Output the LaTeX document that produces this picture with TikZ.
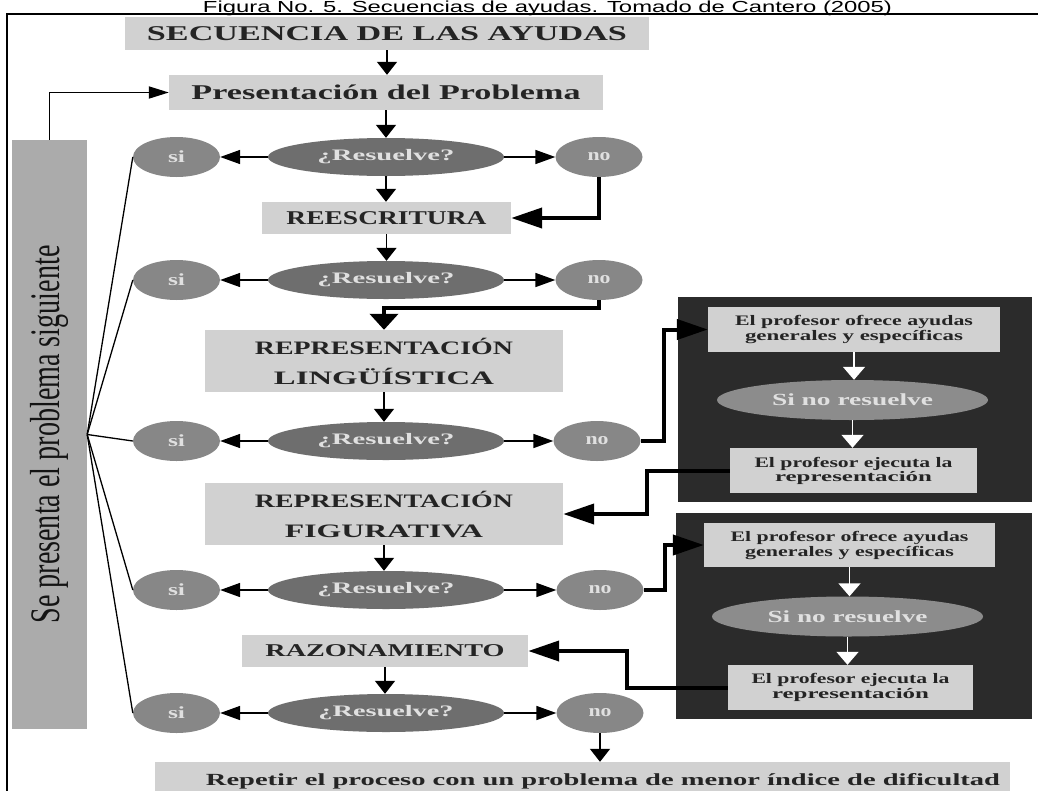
\documentclass[tikz,border=0pt]{standalone}
\usepackage{graphicx}
\usepackage{fontspec}
\setmainfont{Liberation Serif}
\newfontfamily\capfont{Liberation Sans}
\usetikzlibrary{shapes.geometric,arrows.meta}
\newcommand{\hw}[2]{\resizebox{#1}{\height}{#2}}
\definecolor{lboxc}{gray}{0.82}
\definecolor{boxtxt}{gray}{0.14}
\definecolor{ellD}{gray}{0.43}
\definecolor{ellM}{gray}{0.53}
\definecolor{etxt}{gray}{0.88}
\definecolor{darkc}{gray}{0.17}
\definecolor{midc}{gray}{0.67}
\definecolor{snc}{gray}{0.55}
\begin{document}
\begin{tikzpicture}[x=1pt,y=-1pt,
  lbox/.style={rectangle, fill=lboxc, inner sep=0pt, text=boxtxt},
  resell/.style={ellipse, fill=ellD, inner sep=0pt, minimum width=236pt, minimum height=38pt, text=etxt,
     font=\bfseries\fontsize{16}{16}\selectfont},
  sno/.style={ellipse, fill=ellM, inner sep=0pt, minimum width=87pt, minimum height=40pt, text=etxt,
     font=\bfseries\fontsize{17}{17}\selectfont},
  darkbox/.style={rectangle, fill=darkc, inner sep=0pt},
  ibox/.style={rectangle, fill=lboxc, inner sep=0pt, text=boxtxt, align=center},
  snell/.style={ellipse, fill=snc, inner sep=0pt, minimum width=271pt, minimum height=40pt, text=etxt,
     font=\bfseries\fontsize{17}{17}\selectfont},
  varr/.style={line width=1.6pt, -{Triangle[length=13pt,width=20pt]}},
  harr/.style={line width=1.6pt, -{Triangle[length=20pt,width=14pt]}},
  tharr/.style={line width=4pt, -{Triangle[length=31pt,width=20pt]}},
  tvarr/.style={line width=4pt, -{Triangle[length=16pt,width=28pt]}},
  warr/.style={draw=white, line width=1.5pt, -{Triangle[length=13pt,width=22pt]}},
  hub/.style={line width=1.3pt}
]
\clip (0,0) rectangle (1038,790);
\useasboundingbox (0,0) rectangle (1038,790);
\fill[white] (0,0) rectangle (1038,790);

% caption
\node[anchor=base, inner sep=0pt, font=\capfont\fontsize{16}{16}\selectfont] (cap) at (547.5,12)
  {\hw{689pt}{Figura No. 5. Secuencias de ayudas. Tomado de Cantero (2005)}};
% frame
\draw[line width=2.5pt] (7,800) -- (7,14) -- (1045,14);

% left tall box (rotated)
\node[rectangle, fill=midc, inner sep=0pt, rotate=90, minimum width=589pt, minimum height=75pt,
  text=black!92, font=\fontsize{42}{42}\selectfont] (left) at (49.5,434.5)
  {\hw{378pt}{Se presenta el problema siguiente}};

% main column
\node[lbox, minimum width=524pt, minimum height=33pt, font=\bfseries\fontsize{21}{21}\selectfont] (secu) at (387,33.5)
  {\hw{480pt}{SECUENCIA DE LAS AYUDAS}};
\node[lbox, minimum width=434pt, minimum height=35pt, font=\bfseries\fontsize{21}{21}\selectfont] (pres) at (386,92.5)
  {\hw{389pt}{Presentación del Problema}};

\node[resell] (res1) at (386,157) {\hw{137pt}{¿Resuelve?}};
\node[sno] (si1) at (176.5,157) {\hw{17pt}{si}};
\node[sno] (no1) at (599,157) {\hw{23pt}{no}};

\node[lbox, minimum width=249pt, minimum height=32pt, font=\bfseries\fontsize{19.5}{19.5}\selectfont] (rees) at (386.5,218)
  {\hw{200pt}{REESCRITURA}};

\node[resell] (res2) at (386,280) {\hw{137pt}{¿Resuelve?}};
\node[sno] (si2) at (176.5,280) {\hw{17pt}{si}};
\node[sno] (no2) at (599,280) {\hw{23pt}{no}};

\node[lbox, align=center, minimum width=358pt, minimum height=62pt, font=\bfseries\fontsize{19}{30}\selectfont] (ling) at (384,361)
  {\hw{258pt}{REPRESENTACIÓN}\\\hw{220pt}{LINGÜÍSTICA}};

\node[resell] (res3) at (386,441) {\hw{137pt}{¿Resuelve?}};
\node[sno] (si3) at (176.5,441) {\hw{17pt}{si}};
\node[sno] (no3) at (597,441) {\hw{23pt}{no}};

\node[lbox, align=center, minimum width=358pt, minimum height=62pt, font=\bfseries\fontsize{19}{30}\selectfont] (fig) at (384,514)
  {\hw{258pt}{REPRESENTACIÓN}\\\hw{198pt}{FIGURATIVA}};

\node[resell] (res4) at (386,590) {\hw{137pt}{¿Resuelve?}};
\node[sno] (si4) at (176.5,590) {\hw{17pt}{si}};
\node[sno] (no4) at (600,590) {\hw{23pt}{no}};

\node[lbox, minimum width=286pt, minimum height=32pt, font=\bfseries\fontsize{18}{18}\selectfont] (raz) at (385,651)
  {\hw{239pt}{RAZONAMIENTO}};

\node[resell] (res5) at (386,713) {\hw{135pt}{¿Resuelve?}};
\node[sno] (si5) at (176.5,713) {\hw{17pt}{si}};
\node[sno] (no5) at (600,713) {\hw{23pt}{no}};

\node[lbox, minimum width=855pt, minimum height=38pt, font=\bfseries\fontsize{17}{17}\selectfont] (rep) at (582.5,781)
  {\hspace*{41pt}\hw{794pt}{Repetir el proceso con un problema de menor índice de dificultad}};

% dark boxes
\node[darkbox, minimum width=354pt, minimum height=205pt] (dk1) at (855,399.5) {};
\node[ibox, minimum width=292pt, minimum height=45pt, font=\bfseries\fontsize{14.5}{15}\selectfont] (of1) at (854,329.5)
  {\hw{238pt}{El profesor ofrece ayudas}\\\hw{218pt}{generales y específicas}};
\node[snell] (sn1) at (852.5,400) {\hw{161pt}{Si no resuelve}};
\node[ibox, minimum width=247pt, minimum height=45pt, font=\bfseries\fontsize{14.5}{14}\selectfont] (ej1) at (853.5,470.5)
  {\hw{198pt}{El profesor ejecuta la}\\\hw{157pt}{representación}};

\node[darkbox, minimum width=356pt, minimum height=206pt] (dk2) at (854,616) {};
\node[ibox, minimum width=291pt, minimum height=44pt, font=\bfseries\fontsize{14.5}{15}\selectfont] (of2) at (849.5,545)
  {\hw{238pt}{El profesor ofrece ayudas}\\\hw{209pt}{generales y específicas}};
\node[snell] (sn2) at (847.5,616.5) {\hw{160pt}{Si no resuelve}};
\node[ibox, minimum width=245pt, minimum height=45pt, font=\bfseries\fontsize{14.5}{15}\selectfont] (ej2) at (850.5,687.5)
  {\hw{198pt}{El profesor ejecuta la}\\\hw{157pt}{representación}};

% vertical thin arrows
\draw[varr] (secu.south) -- (secu.south |- pres.north);
\draw[varr] (pres.south) -- (pres.south |- res1.north);
\draw[varr] (res1.south) -- (res1.south |- rees.north);
\draw[varr] (rees.south) -- (rees.south |- res2.north);
\draw[varr] (ling.south) -- (ling.south |- res3.north);
\draw[varr] (fig.south) -- (fig.south |- res4.north);
\draw[varr] (raz.south) -- (raz.south |- res5.north);
\draw[varr] (no5.south) -- (no5.south |- rep.north);

% horizontal thin arrows
\foreach \r/\s/\n in {res1/si1/no1, res2/si2/no2, res3/si3/no3, res4/si4/no4, res5/si5/no5}{
  \draw[harr] (\r.west) -- (\r.west -| \s.east);
  \draw[harr] (\r.east) -- (\r.east -| \n.west);
}

% thick arrows
\draw[tharr] (no1.south) |- (rees.east);
\draw[tvarr] (no2.south) |- ([yshift=22pt]ling.north) -- (ling.north);
\draw[tharr] (no3.east) -- ++(23,0) |- (of1.west);
\draw[tharr] (ej1.west) -- ++(-83,0) |- (fig.east);
\draw[tharr] (no4.east) -- ++(21,0) |- (of2.west);
\draw[tharr] (ej2.west) -- ++(-101,0) |- (raz.east);

% white arrows in dark boxes
\draw[warr] (of1.south) -- (of1.south |- sn1.north);
\draw[warr] (sn1.south) -- (sn1.south |- ej1.north);
\draw[warr] (of2.south) -- (of2.south |- sn2.north);
\draw[warr] (sn2.south) -- (sn2.south |- ej2.north);

% left box to presentation
\draw[line width=1.8pt, -{Triangle[length=20pt,width=12pt]}] (left.east) |- (pres.west);

% hub lines
\foreach \s in {si1,si2,si3,si4,si5}{
  \draw[hub] (left.south) -- (\s.west);
}
\end{tikzpicture}
\end{document}
